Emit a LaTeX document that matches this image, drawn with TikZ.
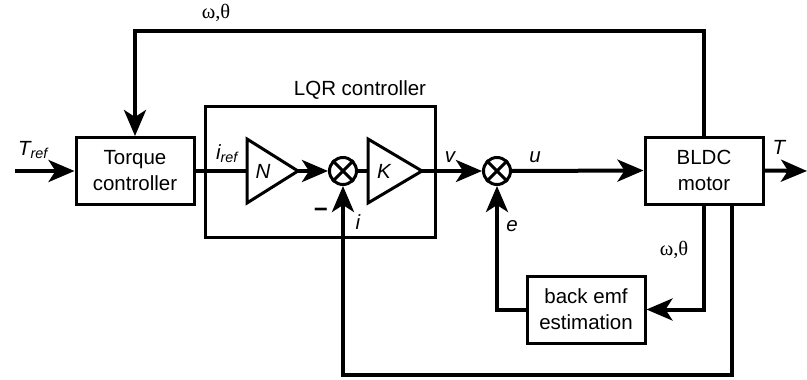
\documentclass[tikz,border=0pt]{standalone}
\usepackage{fontspec}
\setmainfont{Liberation Sans}
\newfontfamily\seriffont{Liberation Serif}
\usetikzlibrary{arrows.meta,calc}
\begin{document}
\begin{tikzpicture}[x=1pt,y=-1pt,
  every node/.style={font=\fontsize{20.5}{26}\selectfont},
  blk/.style={draw,line width=3pt,minimum width=118pt,minimum height=67pt,align=center,inner sep=0pt},
  sumj/.style={draw,circle,line width=3pt,minimum size=27pt,inner sep=0pt},
  wire/.style={line width=4pt},
  arr/.style={line width=4pt,-{Stealth[length=26pt,width=22pt,inset=7pt]}},
  tri/.style={line width=3pt,line join=miter},
  lbl/.style={inner sep=0pt,font=\fontsize{20.5}{26}\selectfont\itshape},
  greek/.style={inner sep=0pt,font=\fontsize{20.5}{24}\seriffont}
]
\useasboundingbox (0,0) rectangle (807,380);
% blocks
\node[blk] (tc) at (135,171) {Torque\\controller};
\node[blk] (bldc) at (704,170.5) {BLDC\\motor};
\node[blk] (emf) at (586,309.5) {back emf\\estimation};
\node[draw,line width=3pt,minimum width=230pt,minimum height=131pt,inner sep=0pt] (lqr) at (320,171.5) {};
\node[inner sep=0pt] (lqrlbl) at (360,90) {LQR controller};
% gains
\coordinate (Nin) at (247,171);
\coordinate (Nout) at (298,171);
\draw[tri] (247,139) -- (Nout) -- (247,203) -- cycle;
\node[lbl] (Nl) at (263,171) {N};
\coordinate (Kin) at (368,171);
\coordinate (Kout) at (422,171);
\draw[tri] (368,139) -- (Kout) -- (368,203) -- cycle;
\node[lbl] (Kl) at (384,171) {K};
% summing junctions
\node[sumj] (s1) at (343,171) {};
\draw[line width=3pt] (s1.45) -- (s1.225) (s1.135) -- (s1.315);
\node[sumj] (s2) at (497,171) {};
\draw[line width=3pt] (s2.45) -- (s2.225) (s2.135) -- (s2.315);
% ends
\coordinate (in) at (15,171);
\coordinate (out) at (807,171);
\coordinate (b1) at (732,204);
% connectors
\draw[arr] (in) -- (tc.west);
\draw[wire] (tc.east) -- (Nin);
\draw[arr] (Nout) -- (s1.west);
\draw[wire] (s1.east) -- (Kin);
\draw[arr] (Kout) -- (s2.west);
\draw[arr] (s2.east) -- (bldc.west);
\draw[arr] (bldc.east) -- (out);
\draw[arr] (bldc.north) |- (135,31) -| (tc.north);
\draw[arr] (bldc.south) |- (emf.east);
\draw[arr] (emf.west) -| (s2.south);
\draw[arr] (b1) |- (343,375) -| (s1.south);
% labels
\node[lbl] (tref) at (33,150) {T\textsubscript{ref}};
\node[lbl] (iref) at (227,154) {i\textsubscript{ref}};
\node[lbl] (vl) at (450,157) {v};
\node[lbl] (ul) at (535,157) {u};
\node[lbl] (Tl) at (779,147) {T};
\node[inner sep=0pt,font=\fontsize{24}{26}\selectfont\bfseries] (minus) at (321,213) {−};
\node[lbl] (il) at (358,222) {i};
\node[lbl] (el) at (512,226) {e};
\node[greek] (w1) at (216,13) {ω,θ};
\node[greek] (w2) at (674,250) {ω,θ};
\end{tikzpicture}
\end{document}
